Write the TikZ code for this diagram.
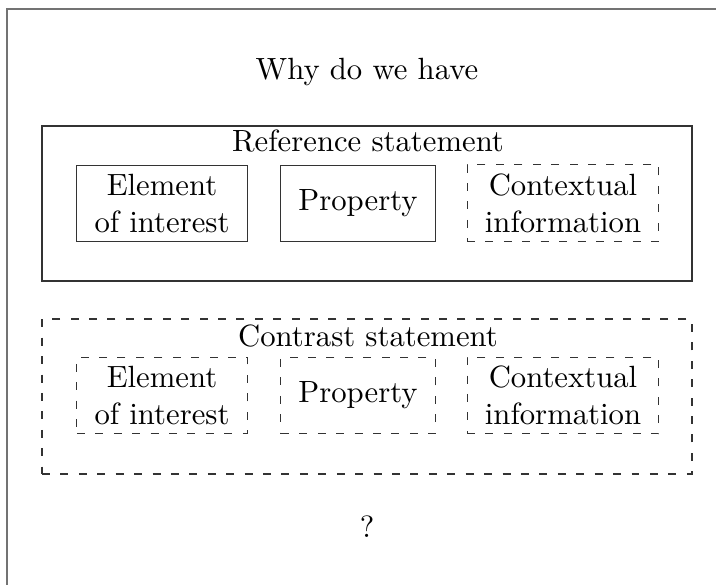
\documentclass[tikz,border=0pt]{standalone}
\usetikzlibrary{shapes}

\begin{document}
\begin{tikzpicture}[x=0.3257pt,y=-0.3257pt]
      \tikzstyle{statement}=[rectangle,draw=black!80,line width=0.35pt,minimum width=211.7pt,minimum height=50.5pt,inner sep=0pt]
      \tikzstyle{part}=[rectangle,draw=black!80,line width=0.35pt,align=center,minimum height=25pt,inner sep=1pt]
      \tikzstyle{missing}=[dash pattern=on 2.6pt off 3.4pt]
      \tikzstyle{label}=[inner sep=0pt]
      \useasboundingbox (0,0) rectangle (716,585);
      \draw[black!55,line width=0.7pt] (7,585) -- (7,9) -- (716,9);
      \node[label] (why) at (367,72) {Why do we have};
      % reference statement
      \node[statement] (ref) at (367,203.5) {};
      \node[label] (reftitle) at (368,141) {Reference statement};
      \node[part,minimum width=55.4pt] (refelem) at (162,203.5) {Element\\of interest};
      \node[part,minimum width=50.2pt] (refprop) at (358,203.5) {Property};
      \node[part,missing,minimum width=62.5pt] (refctx) at (563,203) {Contextual\\information};
      % contrast statement
      \node[statement,missing] (con) at (367,396.5) {};
      \node[label] (contitle) at (368,336) {Contrast statement};
      \node[part,missing,minimum width=55.4pt] (conelem) at (162,395.5) {Element\\of interest};
      \node[part,missing,minimum width=50.2pt] (conprop) at (358,395.5) {Property};
      \node[part,missing,minimum width=62.5pt] (conctx) at (563,395.5) {Contextual\\information};
      \node[label] (ask) at (367,527) {?};
\end{tikzpicture}
\end{document}
